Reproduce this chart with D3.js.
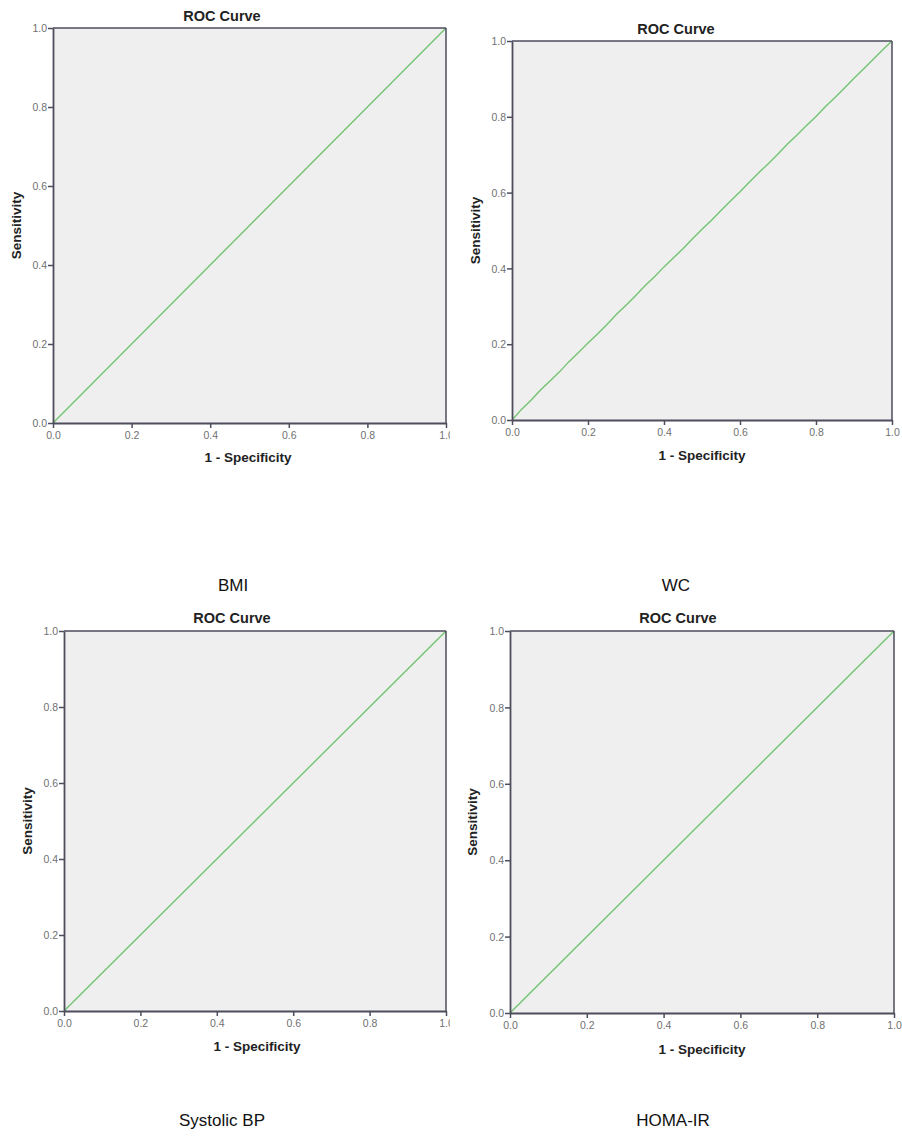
<!DOCTYPE html>
<html>
<head>
<meta charset="utf-8">
<script src="https://cdn.jsdelivr.net/npm/d3@7/dist/d3.min.js"></script>
<style>
  html, body { margin: 0; padding: 0; background: #ffffff; }
  svg { display: block; }
</style>
</head>
<body>
<script>
// ---------- data ----------
const panelNames = ["BMI", "WC", "Systolic BP", "HOMA-IR"];
const chartTitle = "ROC Curve";
const xAxisTitle = "1 - Specificity";
const yAxisTitle = "Sensitivity";
const tickValues = [0.0, 0.2, 0.4, 0.6, 0.8, 1.0];

const bmiFPR = [0, 1];
const bmiTPR = [0, 1];
const wcFPR = [0, 0.025, 0.05, 0.075, 0.10, 0.125, 0.15, 0.175, 0.20, 0.225, 0.25, 0.275, 0.30, 0.325, 0.35, 0.375, 0.40, 0.425, 0.45, 0.475, 0.50, 0.525, 0.55, 0.575, 0.60, 0.625, 0.65, 0.675, 0.70, 0.725, 0.75, 0.775, 0.80, 0.825, 0.85, 0.875, 0.90, 0.925, 0.95, 0.975, 1.0];
const wcTPR = [0, 0.028, 0.052, 0.079, 0.103, 0.127, 0.154, 0.178, 0.203, 0.227, 0.252, 0.279, 0.303, 0.328, 0.354, 0.378, 0.404, 0.428, 0.452, 0.478, 0.503, 0.527, 0.553, 0.578, 0.602, 0.628, 0.653, 0.677, 0.702, 0.728, 0.752, 0.777, 0.801, 0.827, 0.851, 0.876, 0.902, 0.926, 0.951, 0.976, 1.0];
const sbpFPR = [0, 1];
const sbpTPR = [0, 1];
const homaFPR = [0, 1];
const homaTPR = [0, 1];

const seriesFPR = [bmiFPR, wcFPR, sbpFPR, homaFPR];
const seriesTPR = [bmiTPR, wcTPR, sbpTPR, homaTPR];

// ---------- layout (pixel geometry) ----------
const layout = [
  { left: 53,  right: 446, top: 28,  bottom: 423, titleX: 222, titleY: 21,  xtX: 248, xtY: 462, ytX: 16,  nameX: 233, nameY: 591, clip: 450 },
  { left: 512, right: 892, top: 41,  bottom: 420, titleX: 676, titleY: 34,  xtX: 702, xtY: 460, ytX: 475, nameX: 676, nameY: 591, clip: null },
  { left: 64,  right: 446, top: 631, bottom: 1011, titleX: 232, titleY: 623, xtX: 257, xtY: 1051, ytX: 27, nameX: 222, nameY: 1126, clip: 450 },
  { left: 510, right: 894, top: 631, bottom: 1013, titleX: 678, titleY: 623, xtX: 702, xtY: 1054, ytX: 472, nameX: 673, nameY: 1126, clip: null }
];

const W = 902, H = 1146;
const svg = d3.select("body").append("svg").attr("width", W).attr("height", H);
const defs = svg.append("defs");
defs.append("clipPath").attr("id", "leftclip")
  .append("rect").attr("x", 0).attr("y", 0).attr("width", 450).attr("height", H);

const fmt = d3.format(".1f");
const axisColor = "#4d4d5c";
const tickTextColor = "#707070";
const lineColor = "#72c472";

panelNames.forEach((name, i) => {
  const L = layout[i];
  const g = svg.append("g");
  if (L.clip) g.attr("clip-path", "url(#leftclip)");

  const x = d3.scaleLinear().domain([0, 1]).range([L.left, L.right]);
  const y = d3.scaleLinear().domain([0, 1]).range([L.bottom, L.top]);

  // plot background
  g.append("rect")
    .attr("x", x(0)).attr("y", y(1))
    .attr("width", x(1) - x(0)).attr("height", y(0) - y(1))
    .attr("fill", "#efefef");

  // curve
  const pts = seriesFPR[i].map((f, k) => [f, seriesTPR[i][k]]);
  g.append("path")
    .datum(pts)
    .attr("fill", "none")
    .attr("stroke", lineColor)
    .attr("stroke-width", 1.4)
    .attr("d", d3.line().x(d => x(d[0])).y(d => y(d[1])));

  // frame (top/right)
  g.append("line").attr("x1", x(0)).attr("x2", x(1)).attr("y1", y(1)).attr("y2", y(1))
    .attr("stroke", axisColor).attr("stroke-width", 1.5);
  g.append("line").attr("x1", x(1)).attr("x2", x(1)).attr("y1", y(0)).attr("y2", y(1))
    .attr("stroke", axisColor).attr("stroke-width", 1.5);

  // axes
  const xAxis = d3.axisBottom(x).tickValues(tickValues).tickFormat(fmt).tickSize(5).tickSizeOuter(0).tickPadding(2);
  const yAxis = d3.axisLeft(y).tickValues(tickValues).tickFormat(fmt).tickSize(5).tickSizeOuter(0).tickPadding(1);

  const gx = g.append("g").attr("transform", `translate(0,${L.bottom})`).call(xAxis);
  const gy = g.append("g").attr("transform", `translate(${L.left},0)`).call(yAxis);
  [gx, gy].forEach(a => {
    a.select(".domain").attr("stroke", axisColor).attr("stroke-width", 1.8);
    a.selectAll(".tick line").attr("stroke", axisColor).attr("stroke-width", 1.5);
    a.selectAll(".tick text")
      .attr("fill", tickTextColor)
      .style("font-family", "'Liberation Sans', Arial, sans-serif")
      .style("font-size", "10.5px");
  });
  gx.selectAll(".tick text").attr("dy", "0.9em");
  gy.selectAll(".tick text").attr("dy", "0.35em");

  // title
  g.append("text")
    .attr("x", L.titleX).attr("y", L.titleY)
    .attr("text-anchor", "middle")
    .style("font-family", "'Liberation Sans', Arial, sans-serif")
    .style("font-weight", "bold").style("font-size", "14.5px")
    .attr("fill", "#222")
    .text(chartTitle);

  // x axis title
  g.append("text")
    .attr("x", L.xtX).attr("y", L.xtY)
    .attr("text-anchor", "middle")
    .style("font-family", "'Liberation Sans', Arial, sans-serif")
    .style("font-weight", "bold").style("font-size", "13.5px")
    .attr("fill", "#222")
    .text(xAxisTitle);

  // y axis title
  const cy = (L.top + L.bottom) / 2;
  g.append("text")
    .attr("transform", `translate(${L.ytX},${cy}) rotate(-90)`)
    .attr("text-anchor", "middle")
    .attr("dy", "0.35em")
    .style("font-family", "'Liberation Sans', Arial, sans-serif")
    .style("font-weight", "bold").style("font-size", "13.5px")
    .attr("fill", "#222")
    .text(yAxisTitle);

  // panel caption
  svg.append("text")
    .attr("x", L.nameX).attr("y", L.nameY)
    .attr("text-anchor", "middle")
    .style("font-family", "'Liberation Sans', Arial, sans-serif")
    .style("font-size", "17px")
    .attr("fill", "#111")
    .text(name);
});
</script>
</body>
</html>
